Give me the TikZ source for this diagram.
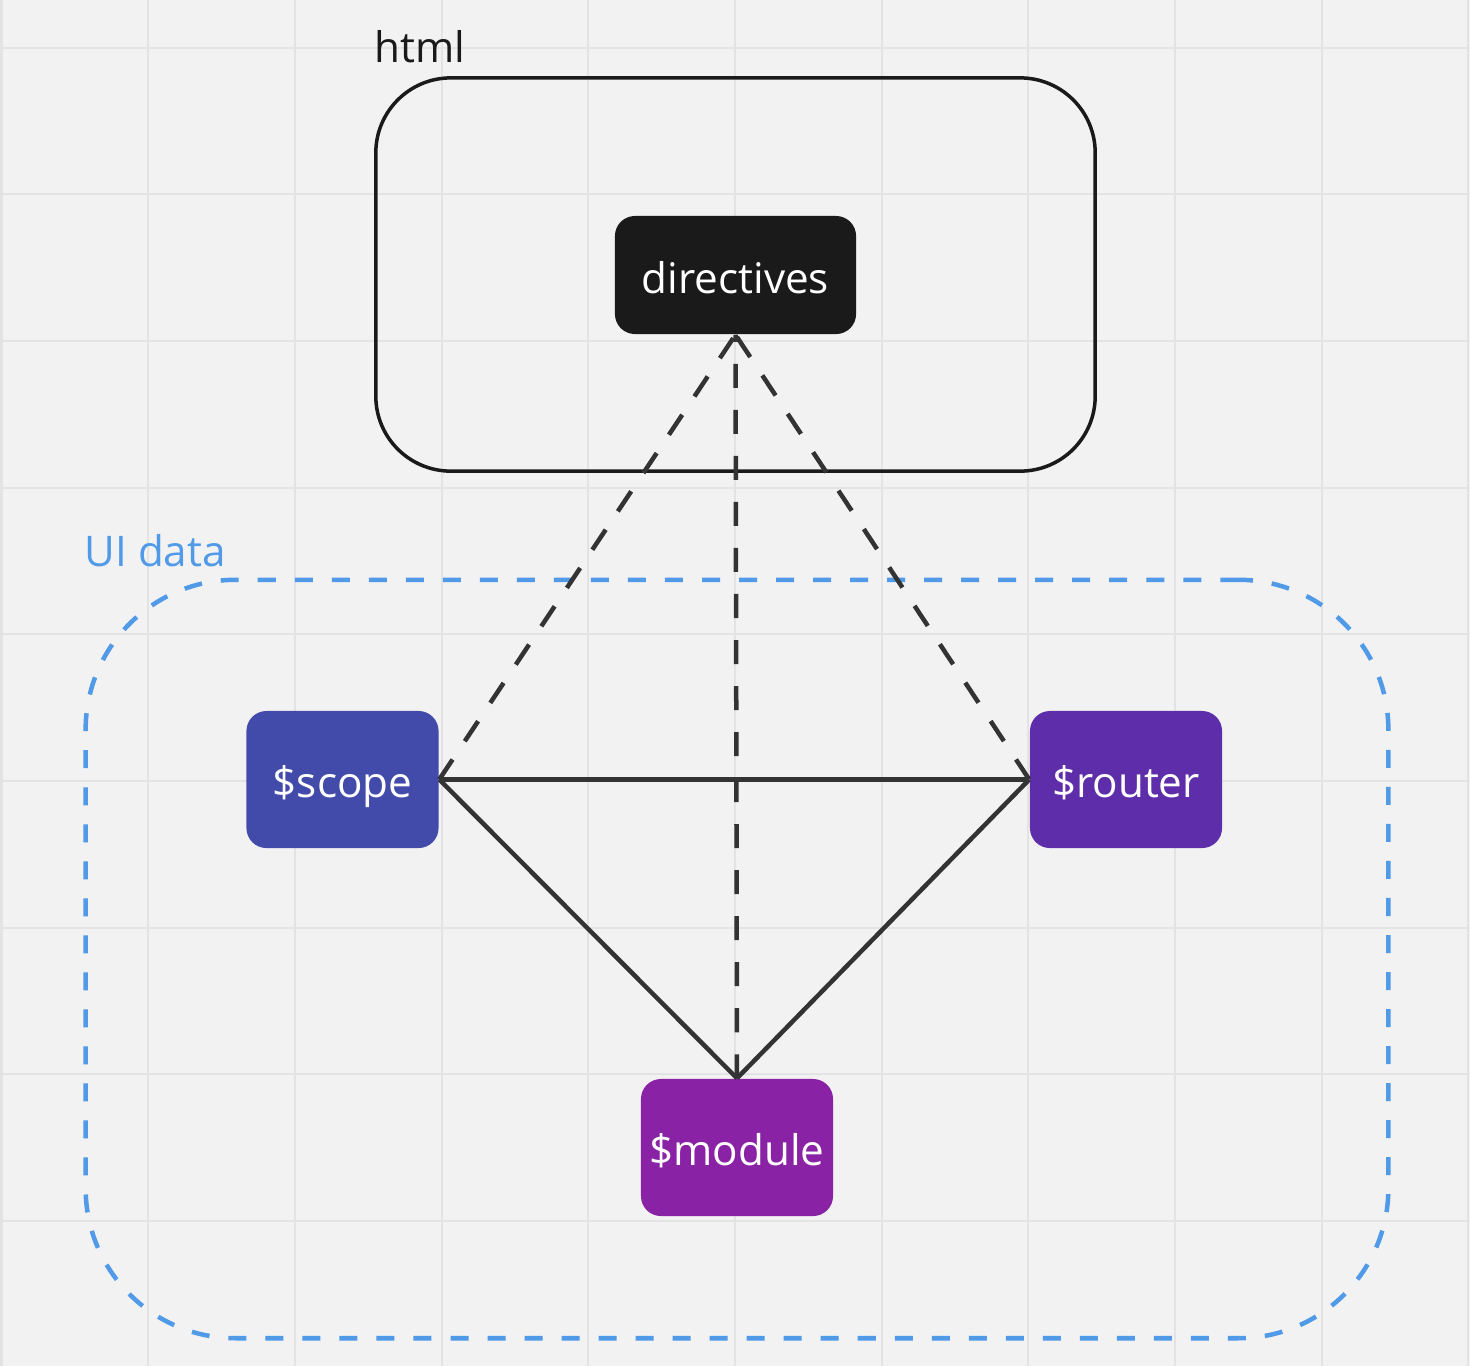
\documentclass[tikz,border=0pt]{standalone}
\usepackage{fontspec}
\setmainfont{Open Sans}
\usepackage{tikz}

\definecolor{paper}{RGB}{242,242,242}
\definecolor{gridline}{RGB}{227,227,227}
\definecolor{ink}{RGB}{26,26,26}
\definecolor{wire}{RGB}{51,51,51}
\definecolor{uiblue}{RGB}{80,154,232}
\definecolor{scopefill}{RGB}{67,75,170}
\definecolor{routerfill}{RGB}{94,46,170}
\definecolor{modulefill}{RGB}{138,34,166}

\tikzset{
    gridrule/.style={draw=gridline,line width=0.02cm},
    label/.style={font=\fontsize{12}{14}\selectfont,inner sep=0pt,anchor=base west},
    tile/.style={rounded corners=0.2cm,text=white,inner sep=0pt,
        minimum width=1.92cm,minimum height=1.37cm,
        text height=0.36cm,text depth=0cm,
        font=\fontsize{12}{14}\selectfont},
    wireline/.style={draw=wire,line width=0.045cm},
    dashwire/.style={wireline,dash pattern=on 0.24cm off 0.22cm}
}

\begin{document}
\begin{tikzpicture}[x=0.01cm,y=-0.01cm]
        \fill[paper] (0,0) rectangle (1470,1366);
        \useasboundingbox (0,0) rectangle (1470,1366);
        \foreach \k in {0,...,10}
        \draw[gridrule] ({1.5+146.67*\k},0) -- ({1.5+146.67*\k},1366);
        \foreach \k in {0,...,8}
        \draw[gridrule] (0,{47.5+146.67*\k}) -- (1470,{47.5+146.67*\k});
        % containers
        \node[draw=ink,line width=0.035cm,rounded corners=0.75cm,
            minimum width=7.19cm,minimum height=3.93cm] (html) at (735.5,274.5) {};
        \node[label,text=ink] (htmllabel) at (374,62) {html};
        \node[draw=uiblue,line width=0.045cm,rounded corners=1.5cm,
            dash pattern=on 0.18cm off 0.19cm,
            minimum width=13.02cm,minimum height=7.58cm] (uidata) at (737,959) {};
        \node[label,text=uiblue] (uilabel) at (84,566) {UI data};
        % nodes
        \node[tile,fill=ink,minimum width=2.41cm,minimum height=1.18cm] (directives) at (735.5,275) {directives};
        \node[tile,fill=scopefill] (scope) at (342.5,779.5) {\$scope};
        \node[tile,fill=routerfill] (router) at (1126,779.5) {\$router};
        \node[tile,fill=modulefill] (module) at (737,1147.5) {\$module};
        % links
        \draw[wireline] (scope.east) -- (router.west);
        \draw[wireline] (scope.east) -- (module.north);
        \draw[wireline] (router.west) -- (module.north);
        \draw[dashwire] (scope.east) -- (directives.south);
        \draw[dashwire] (router.west) -- (directives.south);
        \draw[dashwire] (module.north) -- (directives.south);
    \end{tikzpicture}
\end{document}
